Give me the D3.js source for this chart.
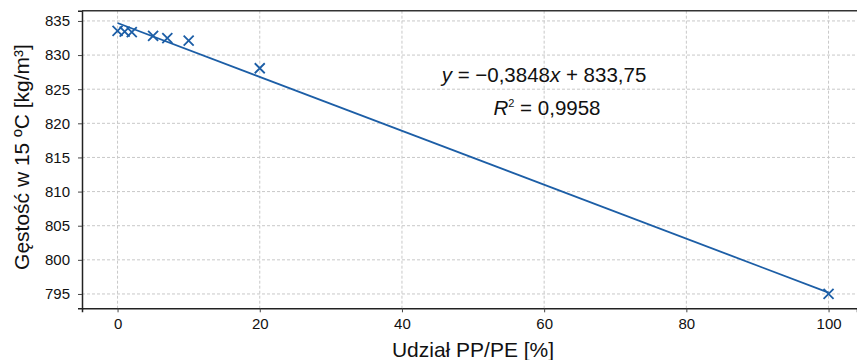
<!DOCTYPE html>
<html><head><meta charset="utf-8">
<script src="https://cdn.jsdelivr.net/npm/d3@7"></script>
<style>body{margin:0;background:#fff}svg{display:block}text{font-family:"Liberation Sans",Arial,sans-serif}</style>
</head><body><svg id="c" width="857" height="360"></svg>
<script>
const shareX = [0, 1, 2, 5, 7, 10, 20, 100];
const density = [833.55, 833.45, 833.35, 832.8, 832.47, 832.1, 828.07, 795.0];
const trendX = [0, 100];
const trendY = [834.7, 795.2];
const xTicks = [0, 20, 40, 60, 80, 100];
const yTicks = [795, 800, 805, 810, 815, 820, 825, 830, 835];
const xTitle = "Udział PP/PE [%]";
const yTitle = "Gęstość w 15 ºC [kg/m³]";

const svg = d3.select("#c");
const L = 82, R = 857, T = 10.7, B = 308.3;
const x = d3.scaleLinear().domain([-5, 104]).range([L, R]);
const y = d3.scaleLinear().domain([792.9, 836.5]).range([B, T]);
const blue = "#1c5ea6";

// grid
svg.append("g").selectAll("line").data(xTicks).join("line")
  .attr("x1", d => x(d)).attr("x2", d => x(d)).attr("y1", T).attr("y2", B)
  .attr("stroke", "#c8c8c8").attr("stroke-dasharray", "3,2").attr("stroke-width", 1);
svg.append("g").selectAll("line").data(yTicks).join("line")
  .attr("y1", d => y(d)).attr("y2", d => y(d)).attr("x1", L).attr("x2", R)
  .attr("stroke", "#c8c8c8").attr("stroke-dasharray", "3,2").attr("stroke-width", 1);

// axes
const xa = svg.append("g").attr("transform", `translate(0,${B})`)
  .call(d3.axisBottom(x).tickValues(xTicks).tickSize(4).tickPadding(6).tickFormat(d3.format("d")));
const ya = svg.append("g").attr("transform", `translate(${L},0)`)
  .call(d3.axisLeft(y).tickValues(yTicks).tickSize(4).tickPadding(8).tickFormat(d3.format("d")));
[xa, ya].forEach(a => {
  a.selectAll("text").attr("font-size", 15).attr("fill", "#111").style("font-family", "Liberation Sans, Arial, sans-serif");
  a.selectAll(".tick line").attr("stroke", "#444");
  a.select(".domain").attr("stroke", "#222").attr("stroke-width", 1.5);
});
svg.append("line").attr("x1", L).attr("x2", R).attr("y1", T).attr("y2", T)
  .attr("stroke", "#333").attr("stroke-width", 1.5);

// trend line
svg.append("path")
  .datum(trendX.map((d, i) => [d, trendY[i]]))
  .attr("d", d3.line().x(d => x(d[0])).y(d => y(d[1])))
  .attr("fill", "none").attr("stroke", blue).attr("stroke-width", 1.8);

// markers
const s = 5;
svg.append("g").selectAll("path").data(shareX.map((d, i) => [d, density[i]])).join("path")
  .attr("d", d => { const cx = x(d[0]), cy = y(d[1]);
    return `M${cx - s},${cy - s}L${cx + s},${cy + s}M${cx - s},${cy + s}L${cx + s},${cy - s}`; })
  .attr("stroke", blue).attr("stroke-width", 1.8).attr("fill", "none");

// equation
const eq = svg.append("text").attr("x", 544).attr("y", 82).attr("text-anchor", "middle")
  .attr("font-size", 20.5).attr("fill", "#111");
eq.append("tspan").attr("font-style", "italic").text("y");
eq.append("tspan").text(" = −0,3848");
eq.append("tspan").attr("font-style", "italic").text("x");
eq.append("tspan").text(" + 833,75");
const r2 = svg.append("text").attr("x", 547).attr("y", 115).attr("text-anchor", "middle")
  .attr("font-size", 20.5).attr("fill", "#111");
r2.append("tspan").attr("font-style", "italic").text("R");
r2.append("tspan").attr("font-size", 11).attr("dy", -8).text("2");
r2.append("tspan").attr("dy", 8).text(" = 0,9958");

// titles
svg.append("text").attr("x", 473).attr("y", 357).attr("text-anchor", "middle")
  .attr("font-size", 21).attr("fill", "#111").text(xTitle);
svg.append("text").attr("transform", "translate(29,157) rotate(-90)").attr("text-anchor", "middle")
  .attr("font-size", 21).attr("fill", "#111").text(yTitle);
</script></body></html>
